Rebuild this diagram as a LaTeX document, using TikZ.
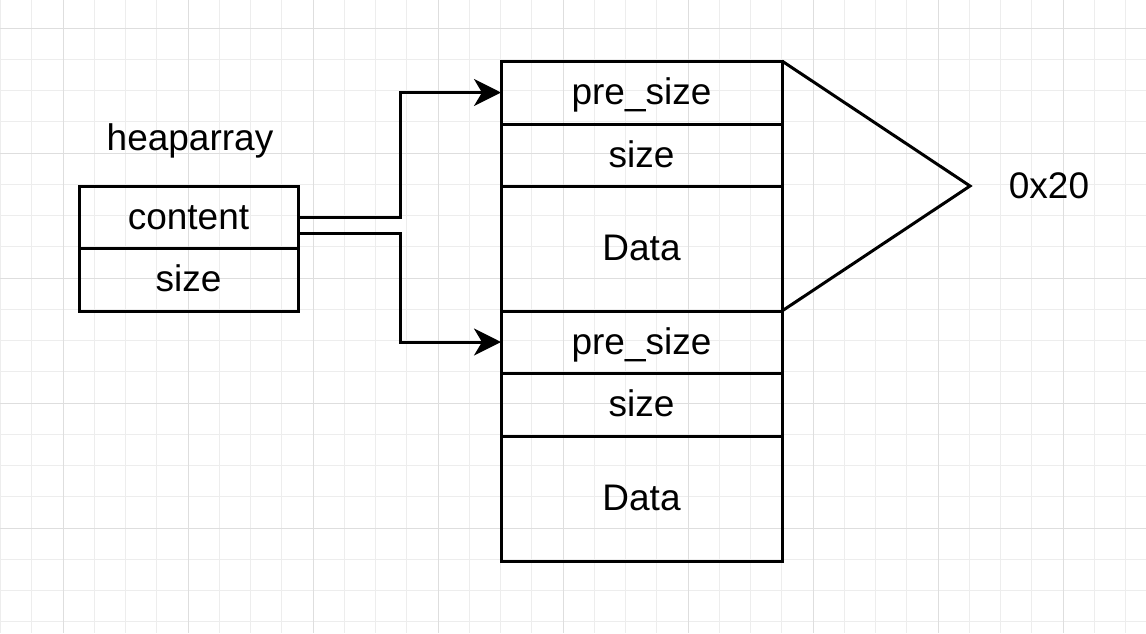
\documentclass[tikz,border=0pt]{standalone}
\usepackage{fontspec}
\setmainfont{Liberation Sans}
\usetikzlibrary{positioning,arrows.meta}

\begin{document}
\begin{tikzpicture}[x=1pt,y=-1pt,
  minor/.style={draw=black!7,line width=1pt},
  major/.style={draw=black!13,line width=1pt},
  box/.style={draw,line width=3pt,outer sep=0pt,inner sep=0pt,minimum width=281pt,
    text height=33pt,text depth=9pt,font=\fontsize{37}{44}\selectfont},
  lbl/.style={inner sep=0pt,font=\fontsize{37}{44}\selectfont},
  arr/.style={-{Stealth[length=27pt,width=27pt,inset=8pt]},line width=3pt}]

  % Background and grid
  \useasboundingbox (0,0) rectangle (1146,633);
  \fill[white] (0,0) rectangle (1146,633);
  \begin{scope}
    \clip (0,0) rectangle (1146,633);
    \foreach \i in {0,...,36} \draw[minor] (\i*31.25+0.5,0) -- (\i*31.25+0.5,633);
    \foreach \i in {0,...,20} \draw[minor] (0,\i*31.25-3.25) -- (1146,\i*31.25-3.25);
    \foreach \i in {0,...,8} \draw[major] (\i*125+63,0) -- (\i*125+63,633);
    \foreach \i in {0,...,4} \draw[major] (0,\i*125+28) -- (1146,\i*125+28);
  \end{scope}

  % heaparray
  \node[lbl] (title) at (190,141) {heaparray};
  \node[box,minimum width=219pt,minimum height=62pt] (content) at (188.5,217) {content};
  \node[box,minimum width=219pt,minimum height=63pt,below=0pt of content] (lsize) {size};

  % Chunks
  \node[box,minimum height=63pt] (pre1) at (641.5,92.5) {pre\_size};
  \node[box,minimum height=62pt,below=0pt of pre1] (size1) {size};
  \node[box,minimum height=125pt,below=0pt of size1] (data1) {Data};
  \node[box,minimum height=62pt,below=0pt of data1] (pre2) {pre\_size};
  \node[box,minimum height=63pt,below=0pt of pre2] (size2) {size};
  \node[box,minimum height=125pt,below=0pt of size2] (data2) {Data};

  % Chunk size
  \coordinate (tip) at (970,186);
  \draw[line width=3pt,line join=miter] (pre1.north east) -- (tip) -- (data1.south east);
  \node[lbl] (csize) at (1049,186) {0x20};

  % Pointers
  \draw[arr] (content.east) -- ++(102,0) |- (pre1.west);
  \draw[arr] ([yshift=-16pt]content.east) -- ++(102,0) |- (pre2.west);
\end{tikzpicture}
\end{document}
